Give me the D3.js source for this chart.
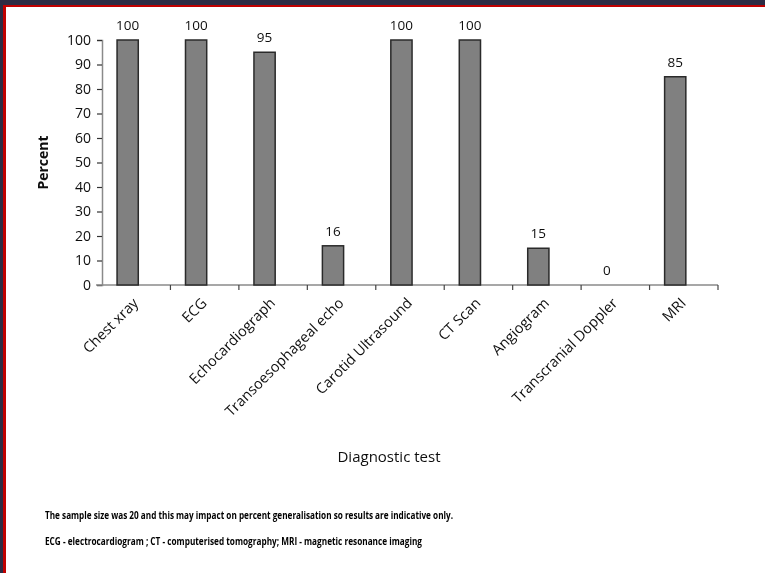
<!DOCTYPE html>
<html>
<head>
<meta charset="utf-8">
<script src="https://cdn.jsdelivr.net/npm/d3@7"></script>
<style>
  html, body { margin: 0; padding: 0; background: #ffffff; }
  svg { display: block; }
</style>
</head>
<body>
<svg id="chart" width="765" height="573"></svg>
<script>
// Diagnostic tests and the percent of patients receiving each
const categories = ["Chest xray", "ECG", "Echocardiograph", "Transoesophageal echo",
  "Carotid Ultrasound", "CT Scan", "Angiogram", "Transcranial Doppler", "MRI"];
const percents = [100, 100, 95, 16, 100, 100, 15, 0, 85];
const yTicks = [0, 10, 20, 30, 40, 50, 60, 70, 80, 90, 100];
const yTitle = "Percent";
const xTitle = "Diagnostic test";
const footnotes = [
  "The sample size was 20 and this may impact on percent generalisation so results are indicative only.",
  "ECG - electrocardiogram ; CT - computerised tomography; MRI - magnetic resonance imaging"
];

const svg = d3.select("#chart");
const W = 765, H = 573;
const font = "'Open Sans', Arial, sans-serif";

// page frame: dark band with red inner rule along top and left
svg.append("rect").attr("x", 0).attr("y", 0).attr("width", W).attr("height", H).attr("fill", "#ffffff");
svg.append("rect").attr("x", 0).attr("y", 0).attr("width", W).attr("height", 5).attr("fill", "#2c2c44");
svg.append("rect").attr("x", 0).attr("y", 0).attr("width", 3).attr("height", H).attr("fill", "#2c2c44");
svg.append("rect").attr("x", 3).attr("y", 5).attr("width", W - 3).attr("height", 2).attr("fill", "#c00000");
svg.append("rect").attr("x", 3).attr("y", 5).attr("width", 3).attr("height", H - 5).attr("fill", "#c00000");

const plot = { left: 102, right: 718, top: 40, bottom: 285 };

const x = d3.scaleBand().domain(categories).range([plot.left, plot.right]).padding(0);
const y = d3.scaleLinear().domain([0, 100]).range([plot.bottom, plot.top]);

const soft = svg.append("defs").append("filter").attr("id", "soft")
  .attr("x", "-5%").attr("y", "-5%").attr("width", "110%").attr("height", "110%");
soft.append("feGaussianBlur").attr("stdDeviation", 0.4);

const g = svg.append("g").attr("filter", "url(#soft)");

// y axis
const yAxis = g.append("g")
  .attr("transform", `translate(${plot.left},0)`)
  .call(d3.axisLeft(y).tickValues(yTicks).tickSize(5).tickPadding(6));
yAxis.select(".domain").attr("stroke", "#8a8a8a").attr("stroke-width", 1.5);
yAxis.selectAll(".tick line").attr("stroke", "#333").attr("stroke-width", 1.2);
yAxis.selectAll(".tick text").attr("font-family", font).attr("font-size", 14).attr("fill", "#111");

// x axis: tick marks on band boundaries
const xAxisG = g.append("g").attr("transform", `translate(0,${plot.bottom})`);
xAxisG.append("line")
  .attr("x1", plot.left - 6).attr("x2", plot.right)
  .attr("y1", 0).attr("y2", 0)
  .attr("stroke", "#8a8a8a").attr("stroke-width", 1.5);
const boundaries = categories.map(c => x(c)).concat([x(categories[categories.length - 1]) + x.bandwidth()]);
xAxisG.selectAll(".btick").data(boundaries.slice(1)).join("line")
  .attr("class", "btick")
  .attr("x1", d => d).attr("x2", d => d)
  .attr("y1", 0).attr("y2", 5)
  .attr("stroke", "#444").attr("stroke-width", 1.2);

// category labels, rotated
g.selectAll(".cat").data(categories).join("text")
  .attr("class", "cat")
  .attr("text-anchor", "end")
  .attr("font-family", font)
  .attr("font-size", 14.5)
  .attr("fill", "#111")
  .attr("transform", d => `translate(${x(d) + x.bandwidth() / 2 + 3},${plot.bottom + 19}) rotate(-45)`)
  .text(d => d);

// bars
const barOff = x.bandwidth() * 0.22, barW = x.bandwidth() * 0.31;
g.selectAll(".bar").data(percents).join("rect")
  .attr("class", "bar")
  .attr("x", (d, i) => x(categories[i]) + barOff)
  .attr("y", d => y(d))
  .attr("width", barW)
  .attr("height", d => y(0) - y(d))
  .attr("fill", d => d > 0 ? "#808080" : "none")
  .attr("stroke", d => d > 0 ? "#2a2a2a" : "none")
  .attr("stroke-width", 1.5);

// value labels
g.selectAll(".val").data(percents).join("text")
  .attr("class", "val")
  .attr("text-anchor", "middle")
  .attr("font-family", font)
  .attr("font-size", 13.5)
  .attr("fill", "#111")
  .attr("x", (d, i) => x(categories[i]) + barOff + barW / 2)
  .attr("y", d => y(d) - 10)
  .text(d => d);

// axis titles
g.append("text")
  .attr("transform", `translate(48,${(plot.top + plot.bottom) / 2}) rotate(-90)`)
  .attr("text-anchor", "middle")
  .attr("font-family", font).attr("font-size", 14).attr("font-weight", "bold").attr("fill", "#111")
  .text(yTitle);
g.append("text")
  .attr("x", 389).attr("y", 462)
  .attr("text-anchor", "middle")
  .attr("font-family", font).attr("font-size", 15).attr("fill", "#111")
  .text(xTitle);

// footnotes
const noteWidths = [408, 377];
g.selectAll(".note").data(footnotes).join("text")
  .attr("class", "note")
  .attr("x", 45)
  .attr("y", (d, i) => 519 + i * 26)
  .attr("font-family", font).attr("font-size", 10).attr("font-weight", "bold").attr("fill", "#000")
  .attr("textLength", (d, i) => noteWidths[i])
  .attr("lengthAdjust", "spacingAndGlyphs")
  .text(d => d);
</script>
</body>
</html>
